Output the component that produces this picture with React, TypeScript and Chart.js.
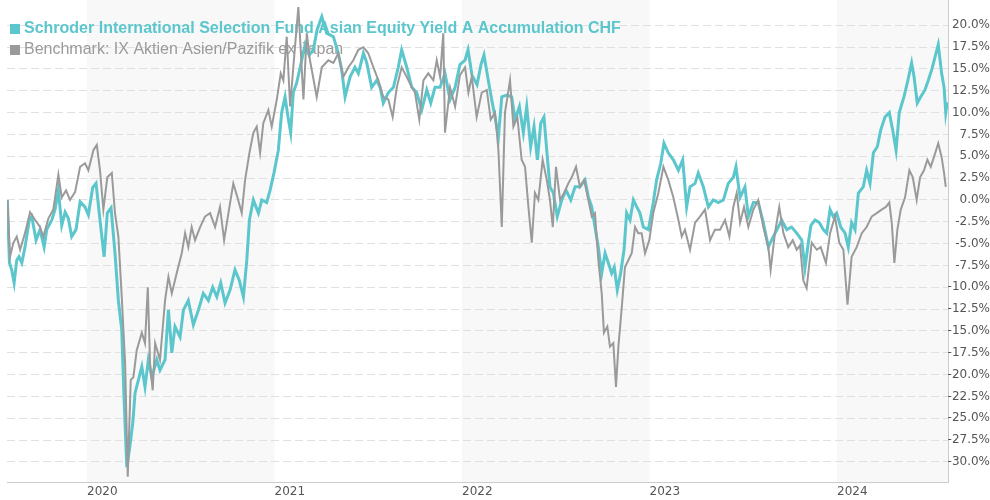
import React, { useEffect, useRef } from "react";
import { Chart, registerables } from "chart.js";

Chart.register(...registerables);

const fundName = "Schroder International Selection Fund Asian Equity Yield A Accumulation CHF";
const benchName = "Benchmark: IX Aktien Asien/Pazifik ex Japan";
const fundColor = "#5cc6cd";
const benchColor = "#9a9a9a";

// dates as fractional years
const fundDates = [
  2019.575, 2019.586, 2019.598, 2019.611, 2019.625, 2019.637, 2019.652, 2019.669, 2019.692, 2019.705,
  2019.728, 2019.749, 2019.771, 2019.785, 2019.812, 2019.829, 2019.847, 2019.865, 2019.883, 2019.900,
  2019.918, 2019.941, 2019.963, 2019.989, 2020.007, 2020.030, 2020.048, 2020.069, 2020.091, 2020.108,
  2020.128, 2020.149, 2020.167, 2020.185, 2020.197, 2020.212, 2020.226, 2020.244, 2020.256, 2020.274,
  2020.292, 2020.309, 2020.327, 2020.345, 2020.372, 2020.389, 2020.416, 2020.434, 2020.452, 2020.469,
  2020.496, 2020.514, 2020.540, 2020.567, 2020.594, 2020.620, 2020.647, 2020.670, 2020.692, 2020.713,
  2020.736, 2020.763, 2020.789, 2020.812, 2020.834, 2020.852, 2020.866, 2020.887, 2020.914, 2020.932,
  2020.958, 2020.976, 2020.997, 2021.020, 2021.038, 2021.056, 2021.074, 2021.086, 2021.100, 2021.118,
  2021.145, 2021.163, 2021.184, 2021.207, 2021.227, 2021.252, 2021.278, 2021.314, 2021.340, 2021.358,
  2021.376, 2021.403, 2021.429, 2021.447, 2021.474, 2021.492, 2021.518, 2021.545, 2021.563, 2021.580,
  2021.607, 2021.634, 2021.660, 2021.678, 2021.705, 2021.732, 2021.758, 2021.785, 2021.812, 2021.833,
  2021.856, 2021.883, 2021.909, 2021.936, 2021.963, 2021.989, 2022.016, 2022.032, 2022.053, 2022.080,
  2022.101, 2022.117, 2022.140, 2022.158, 2022.176, 2022.194, 2022.212, 2022.238, 2022.265, 2022.283,
  2022.306, 2022.327, 2022.345, 2022.366, 2022.384, 2022.402, 2022.420, 2022.437, 2022.455, 2022.469,
  2022.487, 2022.508, 2022.532, 2022.555, 2022.580, 2022.603, 2022.629, 2022.656, 2022.674, 2022.692,
  2022.709, 2022.727, 2022.745, 2022.763, 2022.780, 2022.798, 2022.812, 2022.828, 2022.846, 2022.864,
  2022.878, 2022.896, 2022.914, 2022.932, 2022.949, 2022.967, 2022.994, 2023.020, 2023.038, 2023.060,
  2023.077, 2023.100, 2023.127, 2023.154, 2023.177, 2023.198, 2023.216, 2023.243, 2023.260, 2023.287,
  2023.314, 2023.340, 2023.367, 2023.394, 2023.420, 2023.447, 2023.461, 2023.483, 2023.509, 2023.527,
  2023.554, 2023.580, 2023.607, 2023.634, 2023.660, 2023.687, 2023.705, 2023.732, 2023.758, 2023.785,
  2023.812, 2023.829, 2023.847, 2023.861, 2023.883, 2023.906, 2023.927, 2023.945, 2023.963, 2023.980,
  2023.998, 2024.020, 2024.043, 2024.060, 2024.078, 2024.096, 2024.114, 2024.140, 2024.158, 2024.176,
  2024.194, 2024.215, 2024.233, 2024.256, 2024.279, 2024.297, 2024.315, 2024.332, 2024.357, 2024.375,
  2024.398, 2024.411, 2024.428, 2024.446, 2024.469, 2024.487, 2024.505, 2024.523, 2024.540, 2024.558,
  2024.571, 2024.580, 2024.588,
];

const fundValues = [
  0.0, -7.2, -8.0, -9.5, -6.9, -6.5, -7.2, -5.4, -2.3, -1.9,
  -4.6, -3.4, -5.4, -3.4, -2.3, -1.1, 1.1, -2.9, -1.4, -2.1,
  -4.2, -3.4, -0.2, -0.8, -1.7, 1.4, 1.9, -2.3, -6.5, -1.5,
  -0.9, -6.1, -11.5, -14.9, -22.6, -30.6, -28.6, -25.5, -22.1, -20.6,
  -19.1, -21.4, -18.3, -20.3, -18.3, -19.5, -18.3, -12.6, -17.5, -14.5,
  -15.7, -12.6, -11.5, -14.3, -12.6, -10.7, -11.5, -10.0, -11.1, -9.5,
  -11.8, -10.3, -8.0, -9.2, -11.1, -6.9, -2.3, 0.0, -1.5, 0.0,
  -0.3, 1.1, 3.1, 5.7, 10.0, 11.8, 9.2, 7.7, 12.3, 13.4,
  16.0, 17.8, 16.6, 17.2, 19.5, 21.0, 19.1, 18.7, 16.8, 14.9,
  11.8, 14.1, 15.2, 14.5, 16.8, 15.7, 12.9, 13.7, 12.9, 11.1,
  12.3, 12.9, 15.2, 17.2, 15.2, 12.9, 12.3, 10.3, 12.6, 11.1,
  12.9, 12.9, 14.5, 11.5, 12.9, 15.5, 16.0, 17.2, 14.3, 13.2,
  15.5, 16.6, 13.7, 11.5, 9.5, 7.2, 11.8, 12.0, 11.8, 9.2,
  10.7, 7.7, 10.7, 6.1, 8.4, 4.6, 8.8, 9.5, 4.9, 1.5,
  0.8, -1.9, 0.0, 1.1, 0.0, 1.5, 1.5, 2.3, 0.3, -0.8,
  -3.1, -5.4, -8.4, -6.1, -7.2, -8.4, -7.7, -10.3, -8.4, -5.7,
  -1.5, -2.3, 0.0, -0.8, -1.5, -3.1, -3.4, -0.3, 2.3, 4.2,
  6.5, 5.4, 4.6, 3.4, 4.6, -0.8, 1.5, 1.9, 3.1, 1.5,
  -0.8, 0.0, -0.3, 0.0, 1.9, 2.6, 3.8, 0.3, 1.5, -1.9,
  -0.3, -0.3, -2.6, -5.4, -4.2, -3.1, -2.3, -3.4, -3.1, -3.8,
  -4.6, -7.8, -4.9, -2.9, -2.3, -2.6, -3.4, -3.8, -1.1, -1.9,
  -1.5, -3.1, -3.8, -5.4, -2.6, -3.4, 0.8, 1.5, 3.4, 1.9,
  5.4, 6.1, 8.0, 9.5, 10.0, 8.0, 5.7, 10.0, 11.8, 13.4,
  15.7, 14.1, 11.1, 11.8, 12.6, 13.7, 14.9, 16.4, 17.8, 14.5,
  12.9, 10.0, 11.2,
];

const benchDates = [
  2019.575, 2019.589, 2019.607, 2019.625, 2019.643, 2019.669, 2019.696, 2019.723, 2019.749, 2019.767,
  2019.794, 2019.820, 2019.847, 2019.865, 2019.888, 2019.909, 2019.936, 2019.963, 2019.989, 2020.007,
  2020.034, 2020.052, 2020.069, 2020.087, 2020.108, 2020.132, 2020.149, 2020.167, 2020.185, 2020.203,
  2020.217, 2020.233, 2020.247, 2020.265, 2020.292, 2020.309, 2020.324, 2020.336, 2020.350, 2020.363,
  2020.389, 2020.416, 2020.434, 2020.452, 2020.478, 2020.505, 2020.523, 2020.540, 2020.558, 2020.576,
  2020.603, 2020.629, 2020.656, 2020.683, 2020.709, 2020.731, 2020.754, 2020.780, 2020.802, 2020.825,
  2020.843, 2020.866, 2020.887, 2020.905, 2020.923, 2020.940, 2020.967, 2020.985, 2021.012, 2021.033,
  2021.047, 2021.065, 2021.083, 2021.100, 2021.127, 2021.154, 2021.172, 2021.189, 2021.225, 2021.252,
  2021.287, 2021.314, 2021.340, 2021.367, 2021.394, 2021.420, 2021.447, 2021.474, 2021.500, 2021.527,
  2021.554, 2021.580, 2021.607, 2021.630, 2021.652, 2021.678, 2021.705, 2021.732, 2021.749, 2021.772,
  2021.794, 2021.820, 2021.847, 2021.865, 2021.883, 2021.900, 2021.909, 2021.936, 2021.963, 2021.989,
  2022.016, 2022.034, 2022.052, 2022.078, 2022.105, 2022.132, 2022.153, 2022.176, 2022.194, 2022.212,
  2022.229, 2022.256, 2022.274, 2022.295, 2022.318, 2022.336, 2022.354, 2022.372, 2022.389, 2022.407,
  2022.430, 2022.452, 2022.469, 2022.484, 2022.501, 2022.523, 2022.544, 2022.567, 2022.585, 2022.608,
  2022.629, 2022.651, 2022.674, 2022.692, 2022.709, 2022.727, 2022.745, 2022.757, 2022.775, 2022.789,
  2022.807, 2022.821, 2022.834, 2022.852, 2022.869, 2022.887, 2022.905, 2022.923, 2022.940, 2022.958,
  2022.976, 2022.999, 2023.020, 2023.047, 2023.074, 2023.100, 2023.127, 2023.154, 2023.172, 2023.189,
  2023.216, 2023.243, 2023.269, 2023.296, 2023.323, 2023.349, 2023.376, 2023.403, 2023.426, 2023.447,
  2023.465, 2023.483, 2023.504, 2023.527, 2023.554, 2023.580, 2023.607, 2023.634, 2023.646, 2023.669,
  2023.692, 2023.714, 2023.740, 2023.764, 2023.785, 2023.803, 2023.820, 2023.838, 2023.865, 2023.892,
  2023.913, 2023.941, 2023.963, 2023.989, 2024.012, 2024.034, 2024.056, 2024.078, 2024.105, 2024.132,
  2024.158, 2024.185, 2024.212, 2024.238, 2024.261, 2024.279, 2024.292, 2024.306, 2024.322, 2024.340,
  2024.363, 2024.386, 2024.404, 2024.425, 2024.443, 2024.464, 2024.482, 2024.500, 2024.517, 2024.540,
  2024.558, 2024.571, 2024.580,
];

const benchValues = [
  0.0, -6.5, -4.9, -4.2, -5.7, -3.8, -1.4, -2.3, -3.1, -4.2,
  -2.1, -1.1, 2.9, 0.3, 1.1, 0.0, 0.9, 3.8, 4.2, 3.4,
  5.7, 6.3, 3.4, -1.1, 2.6, 3.1, -1.5, -4.2, -11.1, -18.7,
  -31.7, -20.6, -20.3, -17.2, -15.2, -16.4, -10.0, -18.7, -21.8, -16.4,
  -18.3, -11.5, -8.8, -10.7, -8.4, -6.1, -3.8, -5.4, -3.1, -4.6,
  -3.1, -1.9, -1.5, -3.1, -0.8, -4.6, -1.5, 1.9, 0.3, -1.5,
  2.3, 5.4, 7.7, 8.4, 5.4, 8.8, 10.3, 8.4, 11.5, 14.5,
  13.7, 18.7, 10.7, 15.2, 22.1, 11.5, 19.1, 16.0, 11.8, 15.2,
  16.0, 15.7, 16.8, 14.1, 15.2, 16.0, 17.2, 17.5, 16.8, 15.2,
  13.7, 11.8, 11.5, 9.5, 12.9, 15.2, 14.1, 12.9, 12.3, 9.2,
  13.7, 14.5, 13.7, 16.0, 14.1, 19.1, 7.7, 12.9, 10.7, 14.3,
  15.2, 12.3, 14.1, 9.5, 12.3, 12.6, 9.2, 10.0, 5.7, -3.1,
  10.0, 13.7, 8.4, 9.5, 4.6, 3.8, -0.8, -4.9, 0.8, 0.0,
  4.6, 2.3, 0.0, -3.1, 3.8, 0.0, 0.8, 1.9, 2.6, 3.8,
  1.5, 2.3, 0.0, -1.9, -1.5, -6.9, -10.7, -15.2, -14.5, -16.8,
  -16.4, -21.4, -16.8, -12.3, -7.7, -6.9, -6.1, -3.1, -3.8, -3.8,
  -6.1, -4.6, -1.5, 0.8, 3.8, 2.3, 0.3, -2.3, -4.2, -3.4,
  -5.7, -2.6, -1.9, -1.1, -4.6, -3.4, -3.4, -2.3, -4.2, -0.8,
  0.8, -2.6, -0.8, -3.1, -1.1, 0.0, -3.1, -5.4, -8.0, -3.8,
  -0.8, -3.8, -5.4, -4.6, -5.7, -5.2, -9.2, -10.1, -4.9, -5.7,
  -5.4, -7.2, -3.8, -1.9, -4.9, -5.7, -12.0, -6.5, -5.4, -3.8,
  -3.1, -1.9, -1.5, -1.1, -0.8, -0.3, -2.6, -7.2, -3.4, -1.1,
  0.3, 3.4, 2.6, 0.0, 2.6, 3.4, 4.6, 3.8, 4.9, 6.5,
  4.9, 3.1, 1.5,
];

const yearTicks = [2020, 2021, 2022, 2023, 2024];
const shadedYears = [2020, 2022, 2024];
const yTicks = [20, 17.5, 15, 12.5, 10, 7.5, 5, 2.5, 0, -2.5, -5, -7.5, -10, -12.5, -15, -17.5, -20, -22.5, -25, -27.5, -30];
const xMin = 2019.573;
const xMax = 2024.592;
const yMin = -32.3;
const yMax = 22.9;

const bandsPlugin = {
  id: "yearBands",
  beforeDraw(chart: any) {
    const { ctx, chartArea, scales } = chart;
    const x = scales.x;
    ctx.save();
    ctx.fillStyle = "#f8f8f8";
    for (const yr of shadedYears) {
      const l = Math.max(x.getPixelForValue(yr), chartArea.left);
      const r = Math.min(x.getPixelForValue(yr + 1), chartArea.right);
      if (r > l) ctx.fillRect(l, chartArea.top, r - l, chartArea.bottom - chartArea.top);
    }
    ctx.restore();
  },
};

const legendPlugin = {
  id: "legendText",
  beforeDatasetsDraw(chart: any) {
    const ctx = chart.ctx;
    ctx.save();
    ctx.textBaseline = "middle";
    ctx.textAlign = "left";
    ctx.fillStyle = fundColor;
    ctx.fillRect(10, 24, 10, 10);
    ctx.font = 'bold 16px "Liberation Sans", Arial, sans-serif';
    ctx.fillText(fundName, 24, 29);
    ctx.fillStyle = benchColor;
    ctx.fillRect(10, 45, 10, 10);
    ctx.font = '16px "Liberation Sans", Arial, sans-serif';
    ctx.fillText(benchName, 24, 50);
    ctx.restore();
  },
};

export default function App() {
  const ref = useRef<HTMLCanvasElement | null>(null);

  useEffect(() => {
    if (!ref.current) return;
    const chart = new Chart(ref.current, {
      type: "line",
      data: {
        datasets: [
          {
            label: fundName,
            data: fundDates.map((d, i) => ({ x: d, y: fundValues[i] })),
            borderColor: fundColor,
            backgroundColor: fundColor,
            borderWidth: 3,
            pointRadius: 0,
            tension: 0,
            order: 1,
          },
          {
            label: benchName,
            data: benchDates.map((d, i) => ({ x: d, y: benchValues[i] })),
            borderColor: benchColor,
            backgroundColor: benchColor,
            borderWidth: 2,
            pointRadius: 0,
            tension: 0,
            order: 0,
          },
        ],
      },
      options: {
        animation: false,
        responsive: false,
        devicePixelRatio: 1,
        layout: { padding: { left: 7, top: 0, right: 0, bottom: 0 } },
        plugins: {
          legend: { display: false },
          tooltip: { enabled: false },
        },
        scales: {
          x: {
            type: "linear",
            position: "bottom",
            min: xMin,
            max: xMax,
            afterBuildTicks: (scale: any) => {
              scale.ticks = yearTicks.map((v) => ({ value: v }));
            },
            afterFit: (scale: any) => {
              scale.height = 18;
              scale.paddingLeft = 0;
              scale.paddingRight = 0;
            },
            grid: { display: false, drawTicks: false },
            border: { display: true, color: "#cccccc", width: 1 },
            ticks: {
              autoSkip: false,
              maxRotation: 0,
              align: "start",
              padding: 3,
              color: "#555555",
              font: { family: '"DejaVu Sans", Verdana, sans-serif', size: 12 },
              callback: (v: any) => String(v),
            },
          },
          y: {
            type: "linear",
            position: "right",
            min: yMin,
            max: yMax,
            afterBuildTicks: (scale: any) => {
              scale.ticks = yTicks.map((v) => ({ value: v }));
            },
            afterFit: (scale: any) => {
              scale.width = 42;
              scale.paddingTop = 0;
              scale.paddingBottom = 0;
            },
            grid: { display: true, color: "#e0e0e0", lineWidth: 1, drawTicks: false },
            border: { display: true, color: "#cccccc", width: 1, dash: [8, 4] },
            ticks: {
              padding: 1,
              crossAlign: "far",
              color: "#555555",
              font: { family: '"DejaVu Sans", Verdana, sans-serif', size: 12 },
              callback: (v: any) => Number(v).toFixed(1) + "%",
            },
          },
        },
      },
      plugins: [bandsPlugin, legendPlugin],
    } as any);
    return () => chart.destroy();
  }, []);

  return (
    <div style={{ position: "absolute", left: 0, top: 0, width: 990, height: 500 }}>
      <canvas ref={ref} width={990} height={500} />
    </div>
  );
}
